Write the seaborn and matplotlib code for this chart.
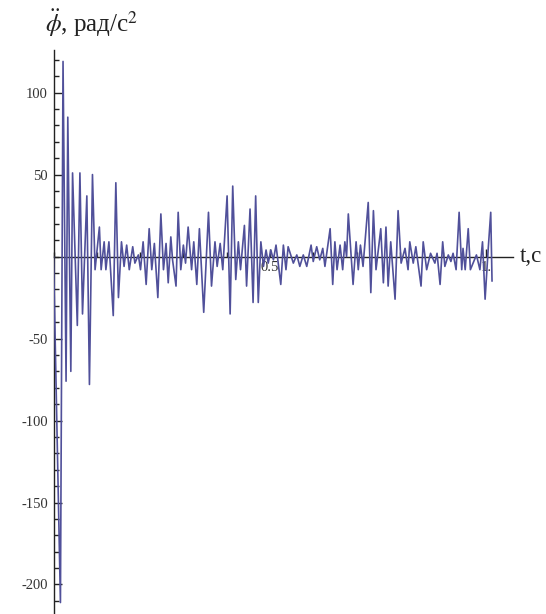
import numpy as np
import pandas as pd
import seaborn as sns
import matplotlib.pyplot as plt
from matplotlib.ticker import MultipleLocator, FixedLocator, FuncFormatter

# ========= DATA =========
t_vals = [
    0.000, 0.016, 0.022, 0.029, 0.033, 0.040, 0.044, 0.055, 0.061, 0.067,
    0.077, 0.083, 0.090, 0.096, 0.106, 0.110, 0.117, 0.121, 0.128, 0.138,
    0.144, 0.150, 0.157, 0.163, 0.169, 0.175, 0.183, 0.188, 0.196, 0.201,
    0.207, 0.214, 0.221, 0.227, 0.233, 0.241, 0.248, 0.254, 0.260, 0.265,
    0.271, 0.275, 0.283, 0.288, 0.294, 0.300, 0.305, 0.311, 0.319, 0.324,
    0.331, 0.337, 0.347, 0.358, 0.365, 0.373, 0.378, 0.385, 0.391, 0.401,
    0.408, 0.414, 0.421, 0.427, 0.432, 0.441, 0.446, 0.454, 0.461, 0.467,
    0.473, 0.479, 0.485, 0.491, 0.496, 0.502, 0.508, 0.514, 0.525, 0.531,
    0.537, 0.542, 0.554, 0.562, 0.569, 0.577, 0.585, 0.595, 0.600, 0.608,
    0.615, 0.622, 0.627, 0.639, 0.645, 0.650, 0.655, 0.662, 0.668, 0.673,
    0.677, 0.681, 0.692, 0.699, 0.704, 0.709, 0.715, 0.727, 0.733, 0.739,
    0.745, 0.756, 0.762, 0.768, 0.773, 0.779, 0.789, 0.796, 0.803, 0.812,
    0.819, 0.823, 0.831, 0.837, 0.849, 0.854, 0.862, 0.871, 0.881, 0.886,
    0.893, 0.899, 0.904, 0.912, 0.918, 0.923, 0.930, 0.937, 0.943, 0.946,
    0.951, 0.958, 0.963, 0.977, 0.985, 0.991, 0.997, 1.004, 1.010, 1.013,
]
phi_dd = [
    0, -211, 119, -76, 85, -70, 51, -42, 51, -35,
    37, -78, 50, -8, 18, -8, 9, -8, 9, -36,
    45, -25, 9, -6, 7, -8, 6, -4, 1, -8,
    9, -17, 17, -8, 8, -25, 26, -8, 8, -16,
    12, -2, -18, 27, -8, 7, -4, 18, -8, 9,
    -17, 17, -34, 27, -18, 9, -6, 8, -8, 37,
    -35, 43, -14, 9, -8, 19, -18, 29, -28, 37,
    -28, 9, -6, 4, -4, 4, -2, 7, -17, 7,
    -8, 6, -4, 1, -6, 1, -6, 7, -3, 6,
    -2, 5, -6, 17, -17, 9, -8, 7, -8, 9,
    0, 26, -17, 9, -8, 7, -6, 33, -22, 28,
    -8, 17, -16, 18, -18, 9, -26, 28, -4, 5,
    -8, 9, -4, 6, -18, 9, -8, 2, -4, 2,
    -17, 9, -6, 1, -3, 2, -8, 27, -8, 5,
    -8, 17, -8, 1, -8, 9, -26, 4, 27, -15,
]

df = pd.DataFrame({"t": t_vals, "a": phi_dd})

# ========= STYLE =========
sns.set_style("white")
plt.rcParams["font.family"] = ["Liberation Serif", "DejaVu Serif"]
plt.rcParams["mathtext.fontset"] = "stix"

fig = plt.figure(figsize=(5.46, 6.14), dpi=100)
ax = fig.add_axes([0.098, 0.0, 0.842, 0.9186])

sns.lineplot(data=df, x="t", y="a", ax=ax, estimator=None, sort=False,
             color="#50509a", linewidth=1.2)

ax.set_xlim(0, 1.062)
ax.set_ylim(-218, 126)

# axes through the origin, Mathematica look
ax.spines["left"].set_position(("data", 0))
ax.spines["bottom"].set_position(("data", 0))
ax.spines["top"].set_visible(False)
ax.spines["right"].set_visible(False)
for s in ("left", "bottom"):
    ax.spines[s].set_color("#222222")
    ax.spines[s].set_linewidth(1.0)
    ax.spines[s].set_zorder(1)

ax.yaxis.set_major_locator(FixedLocator([-200, -150, -100, -50, 50, 100]))
ax.yaxis.set_minor_locator(MultipleLocator(10))
ax.yaxis.set_major_formatter(FuncFormatter(lambda v, p: "%d" % v))
ax.set_xticks([0.5, 1.0], labels=["0.5", "1."])
ax.xaxis.set_minor_locator(MultipleLocator(0.1))

ax.tick_params(axis="both", which="both", direction="in", colors="#222222",
               labelsize=10.5, labelcolor="#333333", width=1.0,
               left=True, bottom=True)
ax.tick_params(axis="both", which="major", length=6)
ax.tick_params(axis="both", which="minor", length=3.5)
ax.tick_params(axis="y", pad=4)
ax.tick_params(axis="x", pad=3)

ax.set_xlabel("")
ax.set_ylabel("")

fig.text(0.083, 0.948, r"$\ddot{\phi}$, рад/с$^2$", fontsize=18,
         color="#222222", ha="left", va="baseline")
ax.text(1.078, 0, "t,c", fontsize=16.5, color="#222222",
        ha="left", va="center", transform=ax.transData, clip_on=False)

fig.savefig("out.png", dpi=100, facecolor="white")
